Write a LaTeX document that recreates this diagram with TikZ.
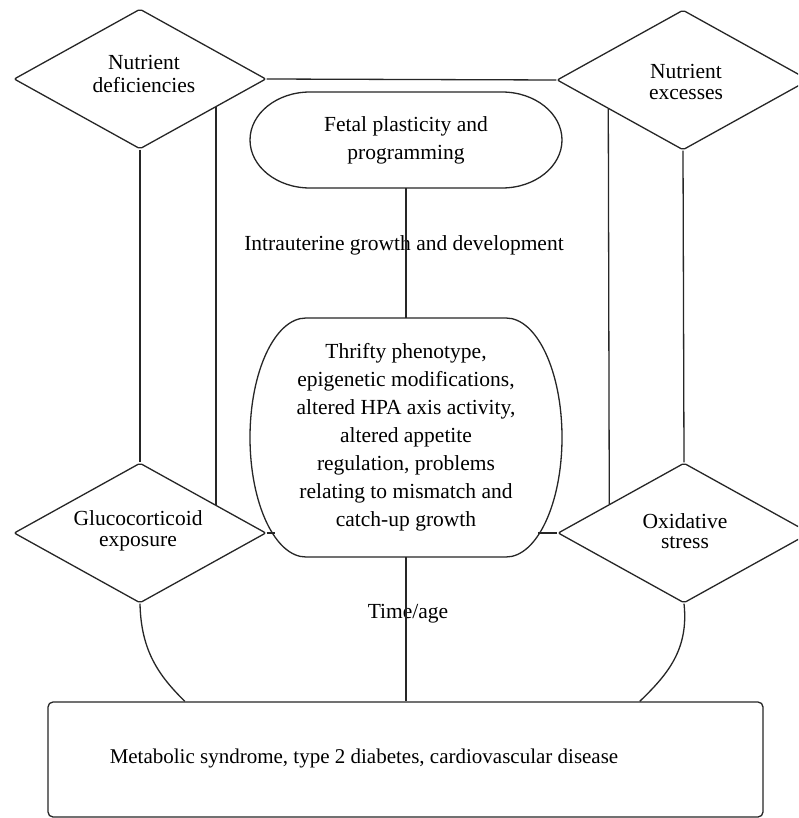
\documentclass[tikz,border=0pt]{standalone}
\usepackage{fontspec}
\setmainfont{Liberation Serif}
\usetikzlibrary{shapes.geometric,calc}
\tikzset{
  ln/.style={line width=1.3pt, draw=black!85},
  dia/.style={shape=diamond, ln, minimum width=252pt, minimum height=140pt, inner sep=0pt, aspect=1.8, rounded corners=2pt},
  txt/.style={font=\fontsize{21.5}{28}\selectfont, align=center, inner sep=0pt},
  dtxt/.style={font=\fontsize{21.5}{20.5}\selectfont, align=center, inner sep=0pt},
}
\begin{document}
\begin{tikzpicture}[x=1pt,y=-1pt]
\useasboundingbox (0,0) rectangle (798,818);
\clip (0,0) rectangle (798,818);
\fill[white] (0,0) rectangle (798,818);

% diamonds
\node[dia] (nd) at (140,79) {};
\node[dia] (ne) at (683,80) {};
\node[dia] (gc) at (140,533) {};
\node[dia] (ox) at (684,533) {};
\node[txt, font=\fontsize{21.5}{23}\selectfont] (nd-t) at (144,74) {Nutrient\\deficiencies};
\node[dtxt] (ne-t) at (686,82) {Nutrient\\excesses};
\node[dtxt] (gc-t) at (138,531) {Glucocorticoid\\exposure};
\node[dtxt] (ox-t) at (685,531) {Oxidative\\stress};

% fetal box
\node[txt, minimum width=312pt, minimum height=96pt] (fet) at (406,140) {Fetal plasticity and\\programming};
\draw[ln] (310,92) -- (502,92) arc[start angle=90, end angle=-90, x radius=60pt, y radius=48pt]
  -- (310,188) arc[start angle=270, end angle=90, x radius=60pt, y radius=48pt] -- cycle;

% thrifty box
\node[txt, minimum width=312pt, minimum height=239pt] (thr) at (406,437.5) {Thrifty phenotype,\\epigenetic modifications,\\altered HPA axis activity,\\altered appetite\\regulation, problems\\relating to mismatch and\\catch-up growth};
\draw[ln] (306,318) -- (506,318) arc[start angle=90, end angle=-90, x radius=56pt, y radius=119.5pt]
  -- (306,557) arc[start angle=270, end angle=90, x radius=56pt, y radius=119.5pt] -- cycle;
\coordinate (thrL) at (275,533);
\coordinate (thrR) at (538,533);

% bottom box
\node[draw, line width=1.3pt, draw=black!85, rounded corners=5pt, minimum width=715pt, minimum height=115pt, inner sep=0pt] (met) at (405.5,759.5) {};
\node[txt, font=\fontsize{21}{26}\selectfont] (met-t) at (364,758) {Metabolic syndrome, type 2 diabetes, cardiovascular disease};

% labels
\node[txt] (iu) at (404,245) {Intrauterine growth and development};
\node[txt] (ta) at (408,614) {Time/age};

% connectors
\draw[ln] (nd.east) -- (ne.west);
\draw[ln] (nd.south) -- (gc.north);
\draw[ln] (ne.south) -- (ox.north);
\draw[ln] ($(nd.east)!0.4!(nd.south)$) -- ($(gc.north)!0.6!(gc.east)$);
\draw[ln] ($(ne.west)!0.41!(ne.south)$) -- ($(ox.north)!0.59!(ox.west)$);
\draw[ln] (fet.south) -- (thr.north);
\draw[ln] (gc.east) -- (thrL);
\draw[ln] (thrR) -- (ox.west);
\draw[ln] (thr.south) -- (thr.south |- met.north);
\draw[ln] (gc.south) .. controls (141,650) and (158,675) .. ($(met.north west)!0.192!(met.north east)$);
\draw[ln] (ox.south) .. controls (689,650) and (667,675) .. ($(met.north west)!0.827!(met.north east)$);
\end{tikzpicture}
\end{document}
